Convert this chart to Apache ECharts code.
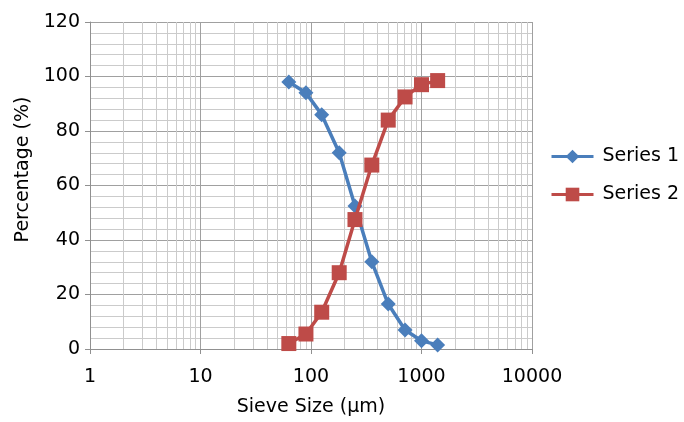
<!DOCTYPE html>
<html>
<head>
<meta charset="utf-8">
<script src="https://cdn.jsdelivr.net/npm/echarts@6/dist/echarts.min.js"></script>
<style>
  html, body { margin: 0; padding: 0; background: #fff; }
  #main { width: 684px; height: 422px; }
</style>
</head>
<body>
<div id="main"></div>
<script>
// sieve sizes in µm and cumulative percentages
const sieveSizes = [63, 90, 125, 180, 250, 355, 500, 710, 1000, 1400];
const series1 = [98, 94, 86, 72, 52.5, 32, 16.5, 7, 3, 1.5];
const series2 = [2, 5.5, 13.5, 28, 47.5, 67.5, 84, 92.5, 97, 98.5];
const seriesNames = ['Series 1', 'Series 2'];

// minor log gridlines 2..9 in each decade
const minorX = [];
[1, 10, 100, 1000].forEach(function (d) {
    for (let k = 2; k <= 9; k++) minorX.push(k * d);
});

const font = "'DejaVu Sans', sans-serif";
const fs = 19;
const blue = '#4a7ebb';
const red = '#be4b48';

var chart = echarts.init(document.getElementById('main'));

var option = {
    animation: false,
    textStyle: { fontFamily: font },
    grid: { left: 90, right: 152, top: 22, bottom: 70 },
    legend: {
        orient: 'vertical',
        left: 550,
        top: 147,
        padding: 0,
        itemWidth: 42,
        itemHeight: 17,
        itemGap: 19,
        data: seriesNames,
        lineStyle: { width: 3 },
        textStyle: { fontSize: fs, color: '#000', fontFamily: font, padding: [0, 0, 0, 4] }
    },
    xAxis: {
        type: 'log',
        logBase: 10,
        min: 1,
        max: 10000,
        name: 'Sieve Size (µm)',
        nameLocation: 'middle',
        nameGap: 49,
        nameTextStyle: { fontSize: fs, color: '#000', fontFamily: font },
        axisLine: { show: true, lineStyle: { color: '#909090', width: 1 } },
        axisTick: { show: true, length: 5, lineStyle: { color: '#909090' } },
        axisLabel: {
            fontSize: fs, color: '#000', margin: 19, fontFamily: font,
            formatter: function (v) { return String(Math.round(v)); }
        },
        splitLine: { show: true, lineStyle: { color: '#a0a0a0', width: 1 } }
    },
    yAxis: {
        type: 'value',
        min: 0,
        max: 120,
        interval: 20,
        name: 'Percentage (%)',
        nameLocation: 'middle',
        nameGap: 56,
        nameTextStyle: { fontSize: fs, color: '#000', fontFamily: font, padding: [0, 0, 0, 32] },
        axisLine: { show: true, lineStyle: { color: '#909090', width: 1 } },
        axisTick: { show: true, length: 5, lineStyle: { color: '#909090' } },
        axisLabel: { fontSize: fs, color: '#000', margin: 10, fontFamily: font },
        splitLine: { show: true, lineStyle: { color: '#a0a0a0', width: 1 } },
        minorTick: { show: false, splitNumber: 5 },
        minorSplitLine: { show: true, lineStyle: { color: '#cbcbcb', width: 1 } }
    },
    series: [
        {
            // carrier for the minor vertical gridlines
            type: 'line',
            data: [],
            z: 1,
            silent: true,
            markLine: {
                z: 1,
                silent: true,
                animation: false,
                symbol: ['none', 'none'],
                label: { show: false },
                emphasis: { disabled: true },
                lineStyle: { color: '#cbcbcb', width: 1, type: 'solid' },
                data: minorX.map(function (v) { return { xAxis: v }; })
            }
        },
        {
            name: seriesNames[0],
            type: 'line',
            z: 3,
            data: sieveSizes.map(function (s, i) { return [s, series1[i]]; }),
            symbol: 'diamond',
            symbolSize: 15,
            itemStyle: { color: blue },
            lineStyle: { color: blue, width: 3.5 }
        },
        {
            name: seriesNames[1],
            type: 'line',
            z: 4,
            data: sieveSizes.map(function (s, i) { return [s, series2[i]]; }),
            symbol: 'rect',
            symbolSize: 15,
            itemStyle: { color: red },
            lineStyle: { color: red, width: 3.5 }
        }
    ]
};

option && chart.setOption(option);
</script>
</body>
</html>
